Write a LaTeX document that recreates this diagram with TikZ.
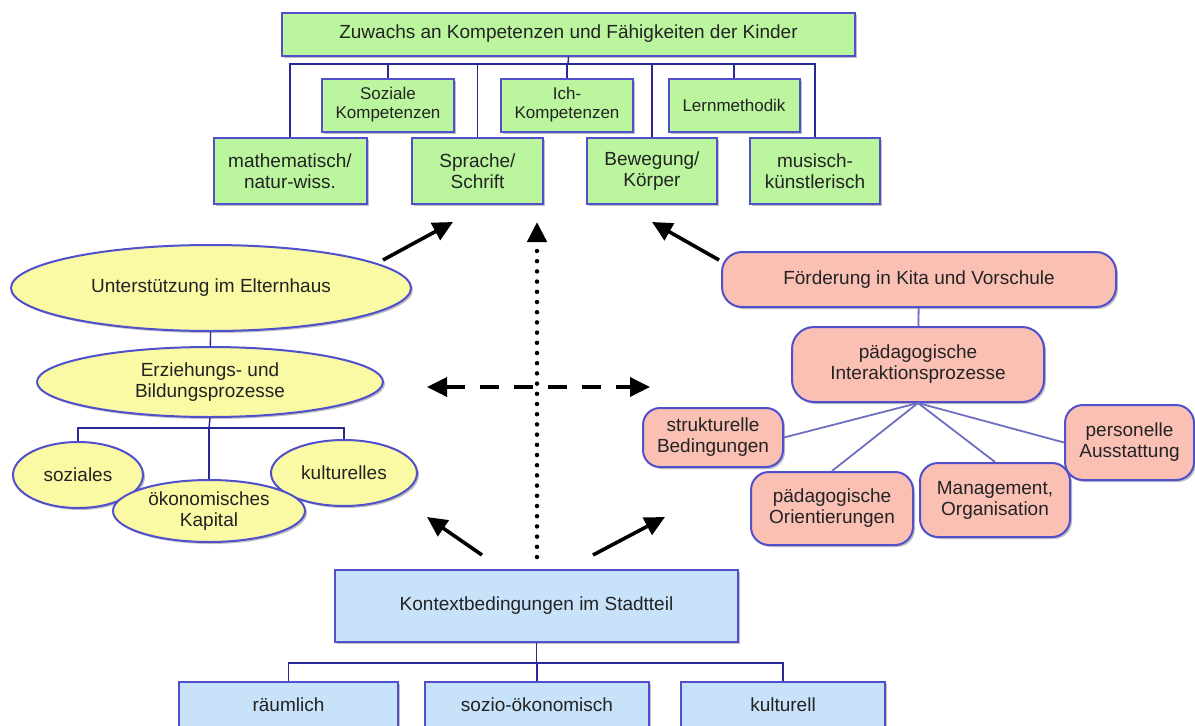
\documentclass[tikz,border=0pt]{standalone}
\usepackage{fontspec}
\setmainfont{Liberation Sans}
\usetikzlibrary{shapes.geometric,arrows.meta,shadows}
\definecolor{gfill}{RGB}{187,245,158}
\definecolor{yfill}{RGB}{250,250,165}
\definecolor{pfill}{RGB}{250,192,180}
\definecolor{bfill}{RGB}{200,226,250}
\definecolor{bord}{RGB}{80,80,205}
\definecolor{navy}{RGB}{40,40,150}
\definecolor{lconn}{RGB}{110,110,195}
\definecolor{txt}{RGB}{35,35,35}
\tikzset{
  base/.style={draw=bord, line width=2pt, align=center, inner sep=0pt, text=txt,
    font=\fontsize{19}{21}\selectfont,
    drop shadow={shadow xshift=2pt, shadow yshift=-2pt, fill=black, opacity=0.25}},
  gbox/.style={base, rectangle, fill=gfill},
  smallfont/.style={font=\fontsize{17}{19}\selectfont},
  yell/.style={base, ellipse, fill=yfill},
  pbox/.style={base, rectangle, rounded corners=#1, fill=pfill},
  bbox/.style={base, rectangle, fill=bfill},
  conn/.style={draw=navy, line width=1.4pt},
  rconn/.style={draw=lconn, line width=1.8pt},
  bigarrow/.style={line width=3.6pt, -{Triangle[length=20pt,width=19pt]}},
}
\begin{document}
\begin{tikzpicture}[x=1pt,y=-1pt]
\useasboundingbox (0,0) rectangle (1195,726);
\fill[white] (0,0) rectangle (1195,726);

% top tree
\coordinate (busT) at (568,64);
\node[gbox, minimum width=573pt, minimum height=43pt] (top) at (568.5,34) {Zuwachs an Kompetenzen und Fähigkeiten der Kinder};
\draw[conn] (top.south) -- (busT);
\node[gbox, smallfont, minimum width=132pt, minimum height=53pt] (soz) at (388,105) {Soziale\\Kompetenzen};
\node[gbox, smallfont, minimum width=132pt, minimum height=53pt] (ich) at (567,105) {Ich-\\Kompetenzen};
\node[gbox, smallfont, minimum width=131pt, minimum height=53pt] (lern) at (734,105) {Lernmethodik};
\node[gbox, minimum width=153pt, minimum height=66pt] (math) at (290,171) {mathematisch/\\natur-wiss.};
\node[gbox, minimum width=131pt, minimum height=66pt] (sprache) at (477.5,171) {Sprache/\\Schrift};
\node[gbox, minimum width=130pt, minimum height=66pt] (beweg) at (652,171) {Bewegung/\\Körper};
\node[gbox, minimum width=130pt, minimum height=66pt] (musisch) at (815,171) {musisch-\\künstlerisch};
\foreach \n in {math,soz,sprache,ich,beweg,lern,musisch}
  \draw[conn] (busT) -| (\n.north);

% left ellipses
\node[yell, minimum width=400pt, minimum height=86pt] (unter) at (211,288) {Unterstützung im Elternhaus};
\node[yell, minimum width=346pt, minimum height=70pt] (erz) at (210,382) {Erziehungs- und\\Bildungsprozesse};
\draw[conn] (unter) -- (erz);
\coordinate (busE) at (209,428);
\node[yell, minimum width=130pt, minimum height=66pt] (sozk) at (78,475) {soziales};
\node[yell, minimum width=146pt, minimum height=66pt] (kult) at (344,473) {kulturelles};
\draw[conn] (erz.south) -- (busE);
\draw[conn] (busE) -| (sozk.north);
\draw[conn] (busE) -| (kult.north);
\node[yell, minimum width=192pt, minimum height=62pt] (oek) at (209,511) {ökonomisches\\Kapital};
\draw[conn] (busE) -- (oek.north);

% right side
\node[pbox=20pt, minimum width=394pt, minimum height=55pt] (foerd) at (919,279.5) {Förderung in Kita und Vorschule};
\node[pbox=22pt, minimum width=252pt, minimum height=75pt] (inter) at (918,364.5) {pädagogische\\Interaktionsprozesse};
\draw[rconn] (foerd) -- (inter);
\node[pbox=17pt, minimum width=140pt, minimum height=59pt] (strukt) at (713,437.5) {strukturelle\\Bedingungen};
\node[pbox=18pt, minimum width=162pt, minimum height=73pt] (orient) at (832,508.5) {pädagogische\\Orientierungen};
\node[pbox=18pt, minimum width=150pt, minimum height=74pt] (manage) at (995,500) {Management,\\Organisation};
\node[pbox=18pt, minimum width=129pt, minimum height=75pt] (person) at (1129.5,442.5) {personelle\\Ausstattung};
\draw[rconn] (inter.south) -- (strukt.east);
\draw[rconn] (inter.south) -- (orient.north);
\draw[rconn] (inter.south) -- (manage.north);
\draw[rconn] (inter.south) -- (person.west);

% bottom
\node[bbox, minimum width=403pt, minimum height=72pt] (kontext) at (536.5,606) {Kontextbedingungen im Stadtteil};
\coordinate (busB) at (536.5,663);
\node[bbox, minimum width=219pt, minimum height=46pt] (raeum) at (288.5,705) {räumlich};
\node[bbox, minimum width=224pt, minimum height=46pt] (sozio) at (537,705) {sozio-ökonomisch};
\node[bbox, minimum width=204pt, minimum height=46pt] (kultl) at (783,705) {kulturell};
\draw[conn] (kontext.south) -- (busB);
\foreach \n in {raeum,sozio,kultl}
  \draw[conn] (busB) -| (\n.north);

% big arrows
\coordinate (a1s) at (383,260); \coordinate (a1e) at (453,222);
\coordinate (a3s) at (719,260); \coordinate (a3e) at (652,222);
\coordinate (dts) at (537,557); \coordinate (dte) at (537,222);
\coordinate (dsl) at (427,387); \coordinate (dsr) at (650,387);
\coordinate (a5s) at (482,555); \coordinate (a5e) at (427,517);
\coordinate (a6s) at (593,555); \coordinate (a6e) at (665,517);
\draw[bigarrow] (a1s) -- (a1e);
\draw[bigarrow] (a3s) -- (a3e);
\draw[bigarrow] (a5s) -- (a5e);
\draw[bigarrow] (a6s) -- (a6e);
\draw[line width=4.5pt, line cap=round, dash pattern=on 0pt off 10.2pt, -{Triangle[length=20pt,width=19pt,line cap=butt]}] (dts) -- (dte);
\draw[line width=3.6pt, dash pattern=on 19pt off 15pt, {Triangle[length=20pt,width=19pt]}-{Triangle[length=20pt,width=19pt]}] (dsl) -- (dsr);
\end{tikzpicture}
\end{document}
